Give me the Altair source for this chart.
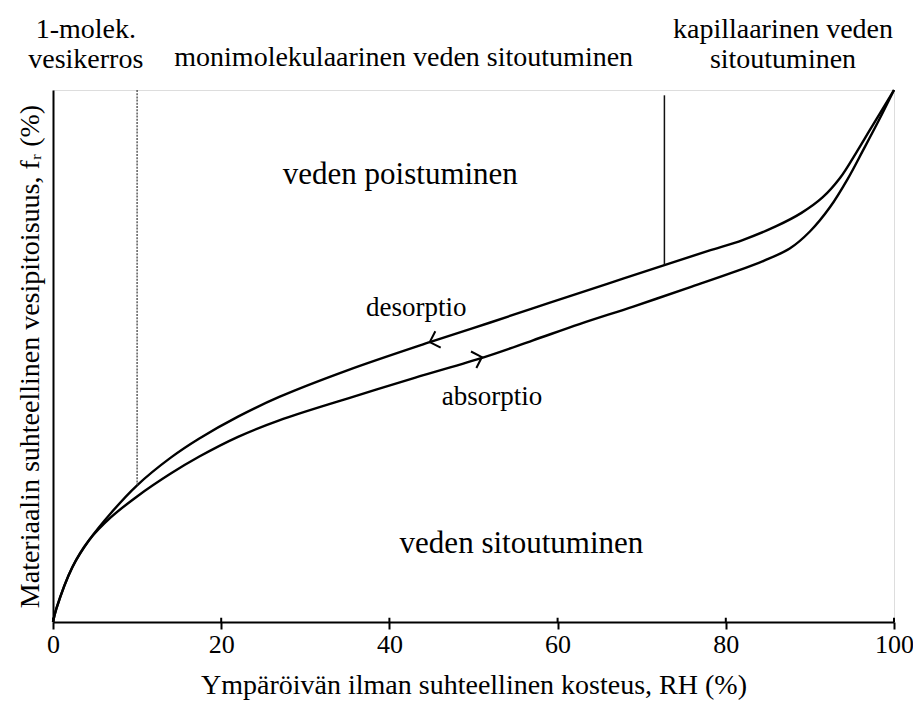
import altair as alt
import pandas as pd

# Desorption (upper) and absorption (lower) curves
rh_des = [0, 0.4, 2.3, 4.3, 6.9, 10, 14, 17.4, 22, 26.9, 35, 44.8, 52, 59, 66, 72.7,
          78, 82, 86, 89, 91.5, 93.6, 95.5, 97.1, 100]
f_des = [0, 2.5, 10.3, 15.4, 20.5, 25.7, 30.9, 34.5, 38.6, 42.3, 47.3, 52.6, 56.3, 60.0,
         63.6, 67.1, 69.8, 71.8, 74.4, 76.9, 79.8, 83.5, 88.2, 92.4, 100]
rh_abs = [0, 0.4, 2.3, 4.3, 6.9, 10, 14, 17.4, 22, 26.9, 35, 43, 51.3, 57, 62.6, 69,
          75.7, 81, 84.5, 87.6, 90, 92.4, 94.5, 96.3, 98.2, 100]
f_abs = [0, 2.5, 10.3, 15.4, 19.7, 23.6, 27.9, 31.1, 34.8, 37.9, 42.0, 45.9, 49.8, 52.9,
         56.0, 59.3, 62.9, 65.8, 67.9, 70.2, 73.4, 78.0, 83.3, 88.6, 94.3, 100]

x_ticks = [0, 20, 40, 60, 80, 100]

# Zone boundary lines
zone_rh = [10, 72.7]
zone_top = [100, 99]
zone_bottom = [25.7, 67.1]
zone_dash = ["dot", "solid"]

# Text annotations
label_text = ["1-molek.", "vesikerros", "monimolekulaarinen veden sitoutuminen",
              "kapillaarinen veden", "sitoutuminen", "veden poistuminen",
              "veden sitoutuminen", "desorptio", "absorptio"]
label_rh = [3.9, 3.9, 41.7, 86.8, 86.8, 41.3, 55.7, 43.2, 52.2]
label_f = [109.8, 104.2, 104.5, 109.8, 104.2, 82.3, 13.0, 57.5, 40.8]
label_size = [28, 28, 28, 28, 28, 31, 31, 27, 27]

# Direction arrowheads on the curves
arrow_rh = [44.8, 51.0]
arrow_f = [52.6, 49.8]
arrow_shape = ["M1,-1L0,0L1,1", "M-1,-1L0,0L-1,1"]

FONT = "Liberation Serif"

curves = pd.concat([
    pd.DataFrame({"RH": rh_des, "f": f_des, "series": "desorptio"}),
    pd.DataFrame({"RH": rh_abs, "f": f_abs, "series": "absorptio"}),
])
zones = pd.DataFrame({"RH": zone_rh, "top": zone_top, "bottom": zone_bottom, "d": zone_dash})
labels = pd.DataFrame({"RH": label_rh, "f": label_f, "t": label_text, "s": label_size})
arrows = pd.DataFrame({"RH": arrow_rh, "f": arrow_f, "shape": arrow_shape})
ticks = pd.DataFrame({"RH": x_ticks, "y0": [0] * len(x_ticks), "y1": [0.8] * len(x_ticks)})

xscale = alt.Scale(domain=[0, 100], nice=False)
yscale = alt.Scale(domain=[0, 100], nice=False)

x_axis = alt.Axis(values=x_ticks, labelFontSize=26, labelFont=FONT, labelColor="black",
                  labelFlush=False, labelPadding=2, tickColor="black", tickWidth=2, tickSize=7,
                  domainColor="black", domainWidth=2, grid=False,
                  title="Ympäröivän ilman suhteellinen kosteus, RH (%)",
                  titleFont=FONT, titleFontSize=28, titleFontWeight="normal",
                  titleColor="black", titlePadding=14)
y_axis = alt.Axis(labels=False, ticks=False, domainColor="black", domainWidth=2, grid=False,
                  title="Materiaalin suhteellinen vesipitoisuus, fᵣ (%)",
                  titleFont=FONT, titleFontSize=28, titleFontWeight="normal",
                  titleColor="black", titlePadding=9)

lines = alt.Chart(curves).mark_line(interpolate="catmull-rom", color="black", strokeWidth=2.4).encode(
    x=alt.X("RH:Q", scale=xscale, axis=x_axis),
    y=alt.Y("f:Q", scale=yscale, axis=y_axis),
    detail="series:N",
)

zone_solid = alt.Chart(zones[zones["d"] == "solid"]).mark_rule(color="#111111", strokeWidth=1.5).encode(
    x="RH:Q", y="top:Q", y2="bottom:Q"
)
zone_dot = alt.Chart(zones[zones["d"] == "dot"]).mark_rule(
    color="#444444", strokeWidth=1.3, strokeDash=[2, 1.2]
).encode(x="RH:Q", y="top:Q", y2="bottom:Q")

tick_in = alt.Chart(ticks).mark_rule(color="black", strokeWidth=2).encode(
    x="RH:Q", y="y0:Q", y2="y1:Q"
)

texts = alt.Chart(labels).mark_text(font=FONT, color="black", align="center",
                                    baseline="alphabetic").encode(
    x="RH:Q", y="f:Q", text="t:N", size=alt.Size("s:Q", scale=None)
)

heads = alt.Chart(arrows).mark_point(filled=False, color="black", strokeWidth=2,
                                     size=300, angle=342, opacity=1).encode(
    x="RH:Q", y="f:Q", shape=alt.Shape("shape:N", scale=None)
)

chart = alt.layer(lines, zone_dot, zone_solid, tick_in, texts, heads).properties(
    width=841, height=532,
    autosize=alt.AutoSizeParams(type="none"),
    padding={"left": 45, "top": 82, "right": 19, "bottom": 81},
).configure_view(stroke="black", strokeWidth=2).configure(background="white")

chart.save("out.html", embed_options={"renderer": "svg", "actions": False})
